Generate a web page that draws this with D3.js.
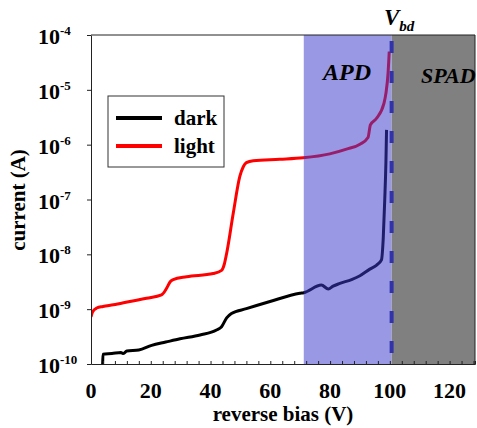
<!DOCTYPE html>
<html>
<head>
<meta charset="utf-8">
<script src="https://cdn.jsdelivr.net/npm/d3@7"></script>
<style>
  body { margin: 0; background: #fff; }
  svg text { font-family: "Liberation Serif", "Times New Roman", serif; font-weight: bold; }
</style>
</head>
<body>
<div id="chart"></div>
<script>
// reverse bias sweep, dark and illuminated current
const darkV = [3.9, 4.0, 7, 10, 10.7, 12, 16, 20.3, 25, 29.8, 36.5, 42, 43.7, 45.4, 47, 52, 59.9, 69.9, 71.2, 77.1, 79.4, 81, 83.3, 87.2, 90, 93.3, 95.5, 97.2, 97.8, 98.3, 98.7, 98.9]
const darkI = [1e-10, 1.51e-10, 1.55e-10, 1.62e-10, 1.55e-10, 1.72e-10, 1.8e-10, 2.19e-10, 2.51e-10, 2.88e-10, 3.39e-10, 4.17e-10, 4.79e-10, 6.92e-10, 8.3e-10, 1.02e-9, 1.38e-9, 1.95e-9, 2.0e-9, 2.75e-9, 2.34e-9, 2.63e-9, 2.95e-9, 3.47e-9, 4.07e-9, 5.37e-9, 6.31e-9, 7.94e-9, 2.0e-8, 1e-7, 5e-7, 1.86e-6]

const lightV = [0, 0.5, 1.9, 4, 7.5, 13, 18.6, 23.6, 25.3, 26.5, 27.5, 32, 40.9, 43.7, 44.6, 45.4, 47.6, 49.8, 51, 52, 54.3, 63.2, 71, 79.9, 85.5, 90, 92.7, 93.5, 95.5, 98.0, 98.7, 99.4, 99.8]
const lightI = [7.2e-10, 8.9e-10, 1.05e-9, 1.12e-9, 1.2e-9, 1.38e-9, 1.58e-9, 1.82e-9, 2.4e-9, 3.16e-9, 3.47e-9, 3.9e-9, 4.47e-9, 5.1e-9, 6.6e-9, 1.05e-8, 5.6e-8, 2.63e-7, 4e-7, 4.7e-7, 5.1e-7, 5.4e-7, 5.75e-7, 6.8e-7, 8.3e-7, 1.02e-6, 1.35e-6, 2.3e-6, 3.0e-6, 5.6e-6, 8.7e-6, 2.0e-5, 5.0e-5]

const xTicks = [0, 20, 40, 60, 80, 100, 120]
const yExponents = [-4, -5, -6, -7, -8, -9, -10]
const apdStart = 71.2
const vbd = 100.6

const margin = {top: 35, right: 2, bottom: 64, left: 91}
const W = 477, H = 428
const width = W - margin.left - margin.right
const height = H - margin.top - margin.bottom

var svg = d3.select("#chart").append("svg")
  .attr("width", W)
  .attr("height", H)

var g = svg.append("g")
  .attr("transform", "translate(" + margin.left + "," + margin.top + ")")

var x = d3.scaleLinear().domain([0, 128.5]).range([0, width])
var y = d3.scaleLog().domain([1e-10, 1e-4]).range([height, 0])

g.append("clipPath").attr("id", "clip")
  .append("rect").attr("width", width).attr("height", height)

var line = d3.line()
  .curve(d3.curveMonotoneX)
  .x(function(d) { return x(d[0]) })
  .y(function(d) { return y(d[1]) })

var plot = g.append("g").attr("clip-path", "url(#clip)")

plot.append("path")
  .datum(d3.zip(darkV, darkI))
  .attr("fill", "none")
  .attr("stroke", "black")
  .attr("stroke-width", 3)
  .attr("d", line)

plot.append("path")
  .datum(d3.zip(lightV, lightI))
  .attr("fill", "none")
  .attr("stroke", "red")
  .attr("stroke-width", 3)
  .attr("d", line)

// APD region, translucent so the curves show through darker
plot.append("rect")
  .attr("x", x(apdStart))
  .attr("y", 0)
  .attr("width", x(vbd) - x(apdStart))
  .attr("height", height)
  .attr("fill", "rgb(58,58,206)")
  .attr("fill-opacity", 0.52)

// SPAD region
plot.append("rect")
  .attr("x", x(vbd))
  .attr("y", 0)
  .attr("width", width - x(vbd))
  .attr("height", height)
  .attr("fill", "#808080")

plot.append("line")
  .attr("x1", x(vbd)).attr("x2", x(vbd))
  .attr("y1", 0).attr("y2", height)
  .attr("stroke", "rgb(50,50,170)")
  .attr("stroke-width", 4)
  .attr("stroke-dasharray", "12,18")
  .attr("stroke-dashoffset", -6)

// axes
var xAxis = d3.axisBottom(x).tickValues(d3.range(0, 129, 4)).tickSize(-3).tickFormat("")
g.append("g")
  .attr("transform", "translate(0," + height + ")")
  .call(xAxis)
  .call(function(s) { s.selectAll("path, line").attr("stroke", "#222") })

var yAxis = d3.axisLeft(y).tickValues(yExponents.map(function(e) { return Math.pow(10, e) })).tickSize(4).tickSizeOuter(0).tickFormat("")
g.append("g")
  .call(yAxis)
  .call(function(s) { s.selectAll("path, line").attr("stroke", "#222") })

// top and right border
g.append("path")
  .attr("d", "M0,0H" + width + "V" + height)
  .attr("fill", "none")
  .attr("stroke", "#222")

// tick labels
g.selectAll(".xl").data(xTicks).enter().append("text")
  .attr("x", function(d) { return x(d) })
  .attr("y", height + 34)
  .attr("text-anchor", "middle")
  .attr("font-size", 22)
  .text(function(d) { return d })

var yl = g.selectAll(".yl").data(yExponents).enter().append("text")
  .attr("x", -53)
  .attr("y", function(d) { return y(Math.pow(10, d)) + 9 })
  .attr("font-size", 22)
yl.append("tspan").text("10")
yl.append("tspan").attr("font-size", 13).attr("dy", -9).text(function(d) { return d })

// axis titles
svg.append("text")
  .attr("x", 283)
  .attr("y", 421)
  .attr("text-anchor", "middle")
  .attr("font-size", 21)
  .text("reverse bias (V)")

svg.append("text")
  .attr("transform", "translate(25,200) rotate(-90)")
  .attr("text-anchor", "middle")
  .attr("font-size", 21)
  .text("current (A)")

// region labels
svg.append("text")
  .attr("x", 323).attr("y", 80)
  .attr("font-size", 24).attr("font-style", "italic")
  .text("APD")

svg.append("text")
  .attr("x", 421).attr("y", 83)
  .attr("font-size", 22).attr("font-style", "italic")
  .text("SPAD")

var vt = svg.append("text")
  .attr("x", 384).attr("y", 25)
  .attr("font-style", "italic")
vt.append("tspan").attr("font-size", 23).text("V")
vt.append("tspan").attr("font-size", 15).attr("dy", 6).text("bd")

// legend
var legend = svg.append("g").attr("transform", "translate(108,96)")
legend.append("rect")
  .attr("width", 116).attr("height", 71)
  .attr("fill", "white").attr("stroke", "#333")
var items = [{name: "dark", color: "black"}, {name: "light", color: "red"}]
var li = legend.selectAll(".li").data(items).enter().append("g")
  .attr("transform", function(d, i) { return "translate(0," + (22 + i * 28) + ")" })
li.append("line")
  .attr("x1", 8).attr("x2", 54)
  .attr("stroke", function(d) { return d.color })
  .attr("stroke-width", 4)
li.append("text")
  .attr("x", 66).attr("y", 7)
  .attr("font-size", 21)
  .text(function(d) { return d.name })
</script>
</body>
</html>
